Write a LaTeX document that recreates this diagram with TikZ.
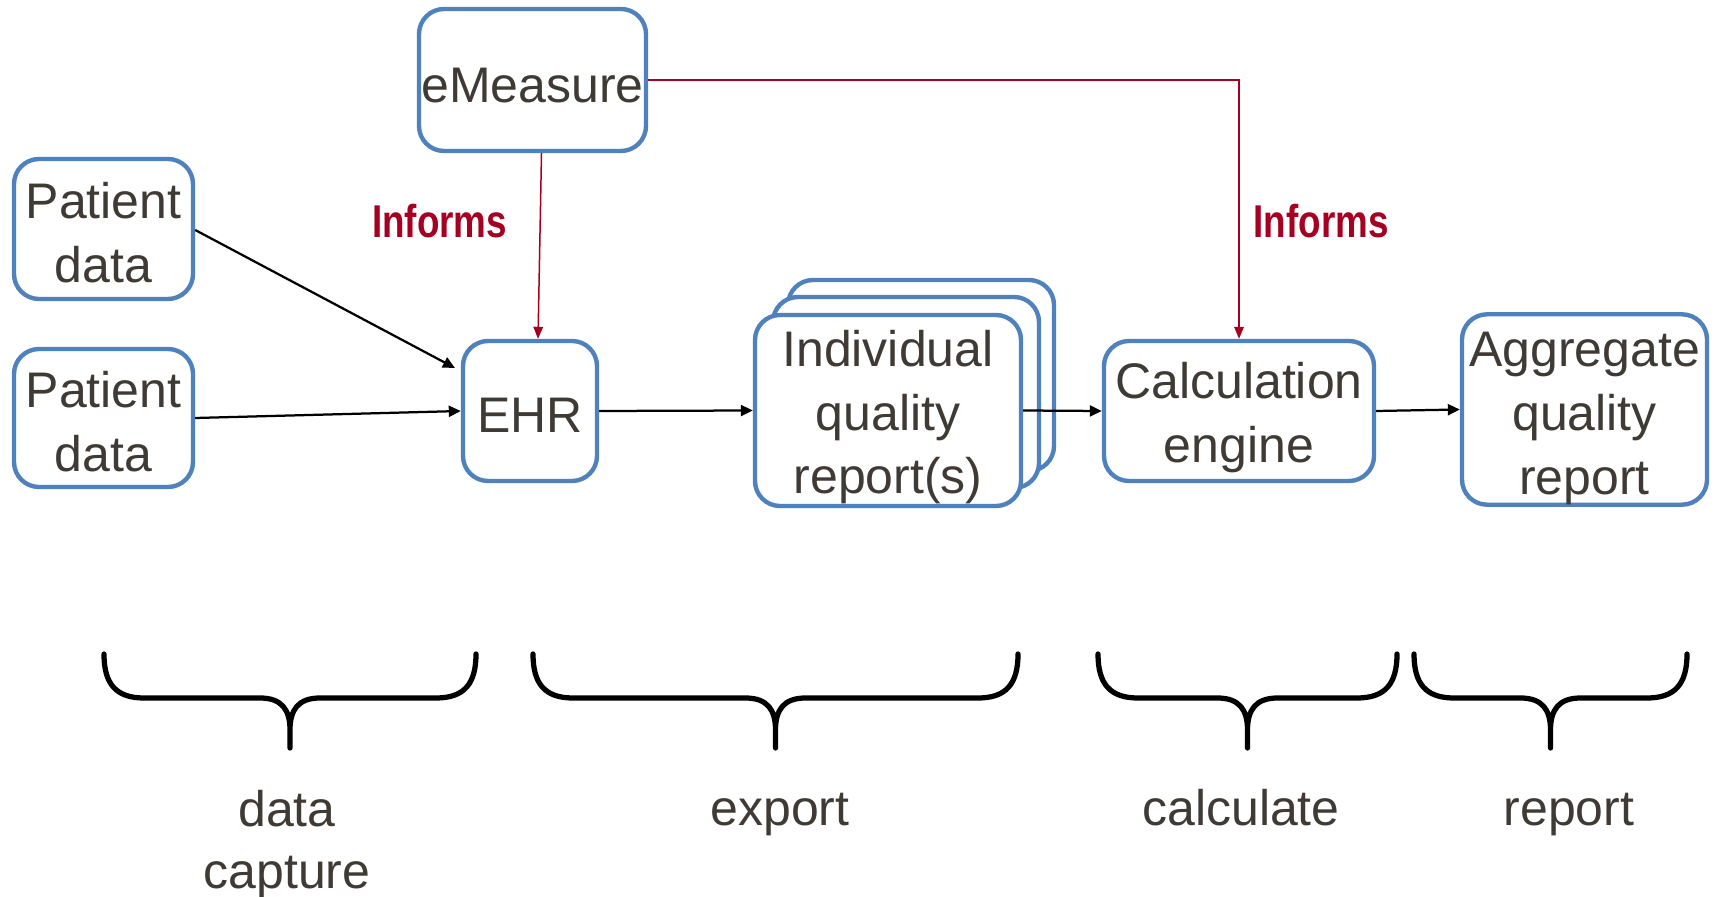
\documentclass[tikz,border=0pt]{standalone}
\usepackage{fontspec}
\setmainfont{Liberation Sans}
\usepackage{graphicx}
\usetikzlibrary{arrows.meta,calc}
\definecolor{boxblue}{HTML}{4F81BD}
\definecolor{inkgray}{HTML}{3F3A34}
\definecolor{linkred}{HTML}{A50021}
% strut that sets a block of text a little lower in its box
\newcommand\droptext[1]{\rule{0pt}{#1}}
\tikzset{
  stepbox/.style={draw=boxblue, line width=1.75pt, rounded corners=10pt, fill=white,
    text=inkgray, align=center, inner sep=0pt, font=\fontsize{20pt}{25.5pt}\selectfont},
  boxdim/.style 2 args={minimum width=#1*0.4pt, minimum height=#2*0.4pt},
  flow/.style={draw=black, line width=0.9pt, -{Triangle[length=4.8pt,width=4.4pt]}},
  informs/.style={draw=linkred, line width=0.6pt, -{Triangle[length=4.8pt,width=3.8pt]}},
  informlabel/.style={text=linkred, inner sep=0pt, font=\fontsize{18.4pt}{22pt}\selectfont\bfseries},
  phase/.style={text=inkgray, align=center, inner sep=0pt, font=\fontsize{20pt}{24.8pt}\selectfont},
  brace/.style={line width=2.1pt, line cap=round, line join=round}
}
\begin{document}
\begin{tikzpicture}[x=0.4pt,y=-0.4pt]
\fill[white] (0,0) rectangle (1717,897);
\useasboundingbox (0,0) rectangle (1717,897);

% process boxes
\node[stepbox, boxdim={227}{142}] (em) at (532.5,80) {\droptext{18pt}eMeasure};
\node[stepbox, boxdim={179}{140}] (p1) at (103.5,229) {\droptext{17.2pt}Patient\\data};
\node[stepbox, boxdim={179}{138}] (p2) at (103.5,418) {\droptext{17.2pt}Patient\\data};
\node[stepbox, boxdim={134}{140}] (ehr) at (530,411) {\droptext{17.2pt}EHR};

% stacked reports
\node[stepbox, boxdim={266}{191}] (indback) at (921,375.5) {};
\node[stepbox, boxdim={266}{191}] (indmid) at (906,392.5) {};
\node[stepbox, boxdim={266}{191}] (ind) at (888,410.5) {\droptext{19.8pt}Individual\\quality\\report(s)};

\node[stepbox, boxdim={270}{140}] (calc) at (1239,411) {\droptext{19.8pt}Calculation\\engine};
\node[stepbox, boxdim={245}{187}] (agg) at (1584.5,409.5) {\droptext{21pt}Aggregate\\quality\\report};

% data flow
\coordinate (ehrin) at (455,368);
\draw[flow] (p1.east |- 0,230) -- (ehrin);
\draw[flow] (p2.east) -- (ehr.west);
\draw[flow] (ehr.east) -- (ind.west);
\draw[flow] (ind.east) -- (calc.west);
\draw[flow] (calc.east) -- (agg.west);

% measure definition links
\draw[informs] ($(em.south)+(9,0)$) -- ($(ehr.north)+(8,0)$);
\draw[informs] (em.east) -| (calc.north);
\node[informlabel] (inf1) at (439.5,221.5) {\scalebox{0.8}[1]{Informs}};
\node[informlabel] (inf2) at (1321,221.5) {\scalebox{0.8}[1]{Informs}};

% phase braces
\foreach \L/\R in {104/476, 533/1018, 1098/1397, 1414/1687}{
  \pgfmathsetmacro\C{(\L+\R)/2}
  \draw[brace] (\L,654) .. controls (\L,684) and (\L+12,698) .. (\L+40,698)
    -- (\C-30,698) .. controls (\C-8,698) and (\C,710) .. (\C,730) -- (\C,748)
    (\R,654) .. controls (\R,684) and (\R-12,698) .. (\R-40,698)
    -- (\C+30,698) .. controls (\C+8,698) and (\C,710) .. (\C,730) -- (\C,748);
}

% phase names
\node[phase] (ph1) at (287,845) {data\\capture};
\node[phase, anchor=base] (ph2) at (780,825) {export};
\node[phase, anchor=base] (ph3) at (1241,825) {calculate};
\node[phase, anchor=base] (ph4) at (1569,825) {report};
\end{tikzpicture}
\end{document}
